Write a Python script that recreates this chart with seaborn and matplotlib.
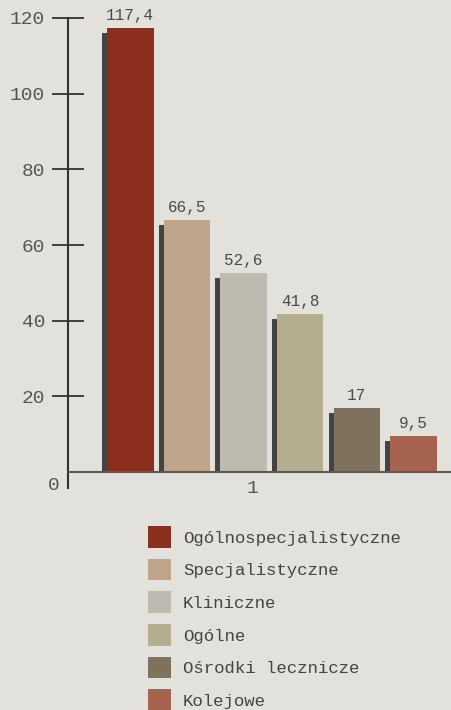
import matplotlib
matplotlib.use("Agg")
import matplotlib.pyplot as plt
import matplotlib.transforms as mtransforms
from matplotlib.patches import Rectangle, Patch
import seaborn as sns
import pandas as pd

categories = ["Ogólnospecjalistyczne", "Specjalistyczne", "Kliniczne",
              "Ogólne", "Ośrodki lecznicze", "Kolejowe"]
values = [117.4, 66.5, 52.6, 41.8, 17, 9.5]
value_labels = ["117,4", "66,5", "52,6", "41,8", "17", "9,5"]
colors = ["#8B2E1E", "#BEA48B", "#BEBAAF", "#B5AD8F", "#7E725C", "#A5634E"]
yticks = [20, 40, 60, 80, 100, 120]
group_label = "1"

df = pd.DataFrame({"typ": categories, "liczba": values})

sns.set_style("white")
plt.rcParams['font.family'] = ['Liberation Mono', 'DejaVu Sans Mono']

bg = "#E2E1DC"
fig = plt.figure(figsize=(4.52, 7.10), dpi=100, facecolor=bg)
ax = fig.add_axes([68 / 452, 1 - 488 / 710, 1 - 68 / 452, (488 - 18) / 710])
ax.set_facecolor("none")

sns.barplot(data=df, x="typ", y="liczba", hue="typ", palette=colors,
            width=0.82, saturation=1, legend=False, ax=ax, zorder=3,
            edgecolor="none", linewidth=0)

bars = list(ax.patches)

# 3D-ish shadow on the left side of every bar
shadow_off = mtransforms.offset_copy(ax.transData, fig=fig, x=-5, y=-5, units="dots")
clip = Rectangle((-5, 0), 20, 500, transform=ax.transData)
for p in bars:
    sh = Rectangle((p.get_x(), 0), p.get_width(), p.get_height(),
                   transform=shadow_off, facecolor="#434343", edgecolor="none",
                   linewidth=0, zorder=2)
    ax.add_patch(sh)
    sh.set_clip_path(clip)

for p, lab in zip(bars, value_labels):
    ax.annotate(lab, (p.get_x() + p.get_width() / 2, p.get_height()),
                xytext=(0, 5), textcoords="offset pixels", ha="center", va="bottom",
                fontsize=11.5, color="#4a4a4a")

ax.set_xlim(-1.10, 5.68)
ax.set_ylim(-4.2, 120)
ax.axhline(0, color="#5a5a5a", lw=1.5, zorder=4)

for s in ["top", "right", "bottom"]:
    ax.spines[s].set_visible(False)
ax.spines["left"].set_color("#333333")
ax.spines["left"].set_linewidth(1.5)

ax.set_yticks(yticks)
ax.set_yticklabels([str(t) for t in yticks])
ax.tick_params(axis="y", left=True, direction="inout", length=23, width=1.3,
               color="#333333", labelsize=14, labelcolor="#555555", pad=5)
ax.set_xticks([2.16])
ax.set_xticklabels([group_label])
ax.tick_params(axis="x", bottom=False, length=0, labelsize=14, labelcolor="#555555", pad=-6)
ax.set_xlabel("")
ax.set_ylabel("")
ax.annotate("0", (0, 0), xycoords="axes fraction", xytext=(-14, 3),
            textcoords="offset pixels", ha="center", va="center",
            fontsize=14, color="#555555", annotation_clip=False)

handles = [Patch(facecolor=c, edgecolor="none") for c in colors]
fig.legend(handles, categories, loc="upper left",
           bbox_to_anchor=(148 / 452, 1 - 526 / 710), frameon=False,
           fontsize=12.5, labelcolor="#444444", handlelength=1.32, handleheight=1.55,
           handletextpad=0.7, labelspacing=0.63, borderpad=0, borderaxespad=0)

fig.savefig("out.png", dpi=100, facecolor=bg)
